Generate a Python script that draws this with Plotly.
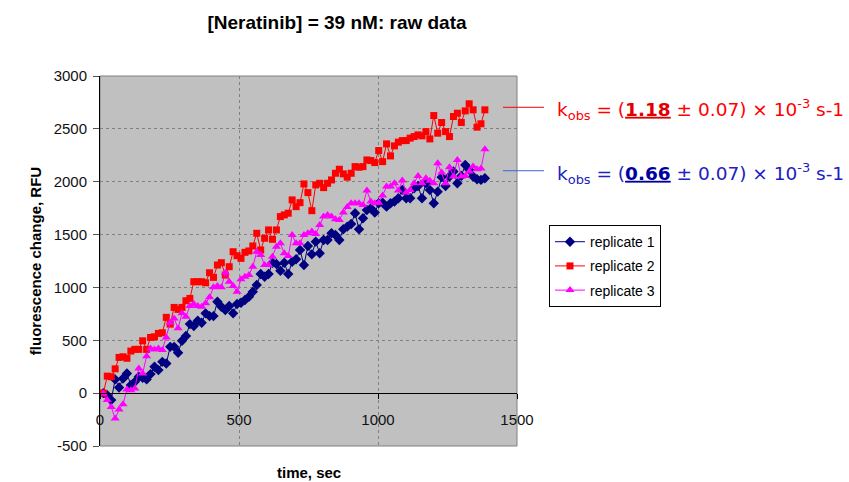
import plotly.graph_objects as go

# Fluorescence change (RFU) for three replicates, sampled every ~14 s
rep1 = [0, -20, -66, 130, 54, 139, 186, 76, 107, 155, 145, 130, 180, 249, 218, 296, 281, 438, 438, 382,
        495, 540, 653, 634, 685, 666, 755, 729, 729, 865, 817, 786, 824, 755, 843, 855, 881, 912, 959, 1023,
        1127, 1101, 1127, 1234, 1222, 1158, 1234, 1127, 1243, 1266, 1354, 1212,
        1392, 1313, 1433, 1323, 1449, 1449, 1512, 1496, 1449, 1550, 1575, 1600, 1702, 1550, 1654, 1733, 1749, 1708,
        1796, 1802, 1764, 1796, 1812, 1843, 1922, 1843, 1843, 1938, 1960, 1843, 1985, 1922, 1796, 1906, 2043, 1960,
        2049, 2096, 1985, 2055, 2159, 2112, 2049, 2024, 2017, 2033]

rep2 = [0, 161, 155, 230, 338, 344, 330, 398, 414, 414, 495, 414, 527, 533, 565, 571, 717, 653, 811, 792,
        811, 874, 896, 1054, 1054, 1054, 1044, 1139, 1095, 1212, 1234, 1117, 1196, 1338, 1300, 1275, 1332, 1345,
        1392, 1512, 1354, 1465, 1544, 1455, 1544, 1670, 1686, 1702, 1828, 1764, 1802, 1979, 1897, 1726, 1970,
        1985, 1944, 1985, 2017, 2080, 2118, 2074, 2043, 2080, 2143, 2137, 2143, 2206, 2200, 2181, 2295, 2190,
        2358, 2244, 2339, 2374, 2389, 2389, 2412, 2427, 2443, 2434, 2474, 2405, 2626, 2459, 2560, 2474, 2427,
        2617, 2648, 2560, 2670, 2737, 2680, 2516, 2548, 2680]

rep3 = [-3, -66, -130, -240, -155, -104, 35, 28, 44, 234, 186, 350, 423, 414, 423, 407, 527, 666, 707, 613,
        755, 723, 824, 843, 824, 817, 850, 906, 1001, 1013, 1001, 1139, 1054, 1013, 959, 1077, 1101, 1117, 1196,
        1338, 1307, 1212, 1212, 1291, 1385, 1417, 1323,
        1297, 1496, 1417, 1417, 1496, 1512, 1528, 1506, 1590, 1670, 1686, 1670, 1645, 1638, 1708, 1760, 1796,
        1796, 1796, 1780, 1916, 1812, 1796, 1802, 1870, 1954, 1954, 1985, 1916, 2011, 1897, 1922, 1985, 2055,
        1985, 2033, 2010, 1985, 2175, 2086, 1985, 2137, 2049, 2206, 2049, 2055, 2096, 2143, 2118, 2124, 2308]

time_s = [round(12 + 14.15 * i, 1) for i in range(len(rep2))]

series_names = ["replicate 1", "replicate 2", "replicate 3"]
series_colors = ["#000080", "#FF0000", "#FF00FF"]
series_symbols = ["diamond", "square", "triangle-up"]
series_sizes = [8, 7, 8]

x_ticks = [0, 500, 1000, 1500]
y_ticks = [-500, 0, 500, 1000, 1500, 2000, 2500, 3000]

TICK_FONT = dict(family="Liberation Sans, Arial, sans-serif", size=15, color="#111111")

fig = go.Figure()
for name, vals, col, sym, sz in zip(series_names, [rep1, rep2, rep3], series_colors, series_symbols, series_sizes):
    fig.add_trace(go.Scatter(
        x=time_s, y=vals, name=name, mode="lines+markers", legendgroup=name,
        line=dict(color=col, width=1),
        marker=dict(symbol=sym, size=sz, color=col, line=dict(width=0)),
    ))

fig.update_layout(
    width=849, height=482,
    margin=dict(l=100, r=332, t=76, b=36),
    paper_bgcolor="white", plot_bgcolor="#C0C0C0",
    title=dict(text="<b>[Neratinib] = 39 nM: raw data</b>", x=337 / 849, xref="container", xanchor="center",
               y=1 - 22 / 482, yref="container", yanchor="middle",
               font=dict(family="Liberation Sans, Arial, sans-serif", size=19, color="black")),
    showlegend=True,
    legend=dict(x=1.0767, y=0.597, xanchor="left", yanchor="top", bgcolor="white",
                bordercolor="black", borderwidth=1, traceorder="grouped", tracegroupgap=3,
                font=dict(family="Liberation Sans, Arial, sans-serif", size=14, color="black")),
)

fig.update_xaxes(
    range=[0, 1500], tickvals=x_ticks, ticktext=[str(v) for v in x_ticks],
    anchor="free", position=500 / 3500,
    showline=True, linecolor="black", linewidth=1,
    ticks="outside", ticklen=5, tickcolor="black", ticklabelstandoff=8,
    showgrid=True, gridcolor="#808080", gridwidth=1, griddash="3px,3px",
    zeroline=False, tickfont=TICK_FONT,
)
fig.update_yaxes(
    range=[-500, 3000], tickvals=y_ticks, ticktext=[str(v) for v in y_ticks],
    showline=True, linecolor="black", linewidth=1,
    ticks="outside", ticklen=6, tickcolor="#555555", ticklabelstandoff=3,
    showgrid=True, gridcolor="#808080", gridwidth=1, griddash="3px,3px",
    zeroline=False, tickfont=TICK_FONT,
    title=dict(text="<b>fluorescence change, RFU</b>", standoff=8,
               font=dict(family="Liberation Sans, Arial, sans-serif", size=15, color="black")),
)

# plot-area frame
fig.add_shape(type="rect", xref="paper", yref="paper", x0=0, x1=1, y0=0, y1=1,
              line=dict(color="#808080", width=1), layer="below")

# x-axis title below the frame
fig.add_annotation(text="<b>time, sec</b>", xref="paper", yref="paper", x=0.5, y=-0.0703,
                   xanchor="center", yanchor="middle", showarrow=False,
                   font=dict(family="Liberation Sans, Arial, sans-serif", size=15, color="black"))

# rate-constant callouts
kobs_font = "DejaVu Sans, Verdana, sans-serif"
callouts = [
    (0.9154, 0.9108, "#FF0000", "#FF0000", "#E00000", "1.18"),
    (0.744, 0.7378, "#4060E0", "#2020C0", "#0000A0", "0.66"),
]
for y_line, y_text, line_col, text_col, bold_col, val in callouts:
    fig.add_shape(type="line", xref="paper", yref="paper", x0=0.9664, x1=1.0647, y0=y_line, y1=y_line,
                  line=dict(color=line_col, width=1), layer="above")
    fig.add_annotation(
        text=(f"k<sub>obs</sub> = (<span style='color:{bold_col}'><u><b>{val}</b></u></span> ± 0.07) × 10<sup>-3</sup> s-1"),
        xref="paper", yref="paper", x=1.0911, y=y_text, xanchor="left", yanchor="middle",
        showarrow=False, font=dict(family=kobs_font, size=18.5, color=text_col))

fig.write_html("out.html")
